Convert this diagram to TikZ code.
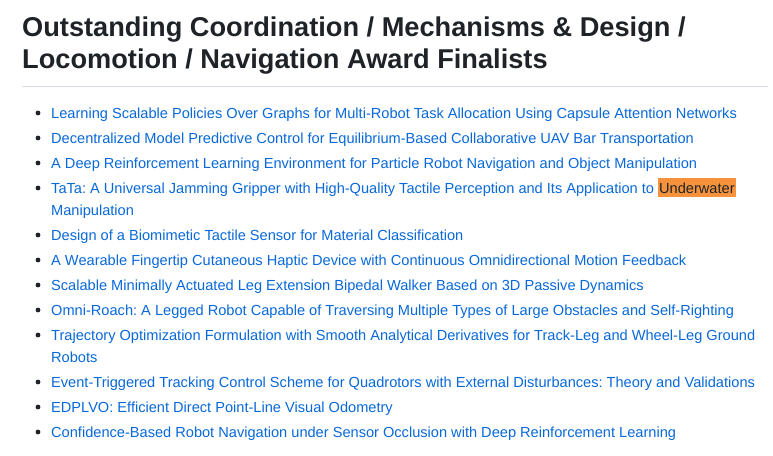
\documentclass[tikz,border=0pt]{standalone}
\usepackage{fontspec}
\setmainfont{Liberation Sans}
\frenchspacing
\definecolor{headtext}{HTML}{1F2328}
\definecolor{linkblue}{HTML}{0969DA}
\definecolor{rulegray}{HTML}{D8DEE4}
\definecolor{hlorange}{HTML}{F7923C}
\tikzset{
  headline/.style={anchor=base west, inner sep=0pt, text=headtext,
    font=\fontsize{27.2}{32}\selectfont\bfseries},
  paper/.style={anchor=base west, inner sep=0pt, text=linkblue,
    font=\fontsize{14.6}{22}\selectfont},
}
\newcommand{\hlword}[1]{{\setlength{\fboxsep}{0pt}%
  \colorbox{hlorange}{\rule[-4pt]{0pt}{19pt}\hspace{1pt}\textcolor{headtext}{#1}\hspace{1pt}}}}

\begin{document}
\begin{tikzpicture}[x=1pt,y=-1pt]
        \fill[white] (0,0) rectangle (773,455);
        \useasboundingbox (0,0) rectangle (773,455);

        % heading
        \node[headline] (head1) at (22,36) {Outstanding Coordination / Mechanisms \& Design /};
        \node[headline] (head2) at (22,68) {Locomotion / Navigation Award Finalists};
        \draw[rulegray, line width=1pt] (22,86) -- (768,86);

        % finalists, one bullet each
        \foreach \y/\t [count=\i] in {
          118/{Learning Scalable Policies Over Graphs for Multi-Robot Task Allocation Using Capsule Attention Networks},
          143/{Decentralized Model Predictive Control for Equilibrium-Based Collaborative UAV Bar Transportation},
          168/{A Deep Reinforcement Learning Environment for Particle Robot Navigation and Object Manipulation},
          193/{TaTa: A Universal Jamming Gripper with High-Quality Tactile Perception and Its Application to \hlword{Underwater}},
          240/{Design of a Biomimetic Tactile Sensor for Material Classification},
          265/{A Wearable Fingertip Cutaneous Haptic Device with Continuous Omnidirectional Motion Feedback},
          290/{Scalable Minimally Actuated Leg Extension Bipedal Walker Based on 3D Passive Dynamics},
          315/{Omni-Roach: A Legged Robot Capable of Traversing Multiple Types of Large Obstacles and Self-Righting},
          340/{Trajectory Optimization Formulation with Smooth Analytical Derivatives for Track-Leg and Wheel-Leg Ground},
          387/{Event-Triggered Tracking Control Scheme for Quadrotors with External Disturbances: Theory and Validations},
          412/{EDPLVO: Efficient Direct Point-Line Visual Odometry},
          437/{Confidence-Based Robot Navigation under Sensor Occlusion with Deep Reinforcement Learning}} {
          \fill[headtext] (38,\y-5) circle (2.4pt);
          \node[paper] (paper\i) at (51,\y) {\t};
        }

        % wrapped lines
        \node[paper] (paper4b) at (51,215) {Manipulation};
        \node[paper] (paper9b) at (51,362) {Robots};
\end{tikzpicture}
\end{document}
